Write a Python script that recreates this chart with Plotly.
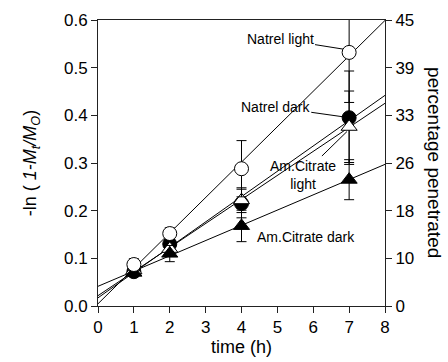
import numpy as np
import plotly.graph_objects as go

# ---- data ----
time_h = [1, 2, 4, 7]

natrel_light = [0.087, 0.152, 0.288, 0.532]
natrel_light_err = [0.012, 0.012, 0.059, 0.105]

natrel_dark = [0.072, 0.130, 0.215, 0.395]
natrel_dark_err = [0.008, 0.012, 0.030, 0.098]

citrate_light = [0.075, 0.120, 0.222, 0.376]
citrate_light_err = [0.008, 0.010, 0.026, 0.075]

citrate_dark = [0.070, 0.110, 0.168, 0.265]
citrate_dark_err = [0.006, 0.017, 0.033, 0.042]

left_tick_vals = [0.0, 0.1, 0.2, 0.3, 0.4, 0.5, 0.6]
right_tick_labels = ["0", "10", "18", "26", "33", "39", "45"]
x_ticks = [0, 1, 2, 3, 4, 5, 6, 7, 8]
fit_span = [0, 8]

FONT = "Liberation Sans, Arial, Helvetica, sans-serif"

fig = go.Figure()

series = [
    ("Natrel dark", natrel_dark, natrel_dark_err, "circle", "black"),
    ("Am.Citrate light", citrate_light, citrate_light_err, "triangle-up", "white"),
    ("Am.Citrate dark", citrate_dark, citrate_dark_err, "triangle-up", "black"),
    ("Natrel light", natrel_light, natrel_light_err, "circle", "white"),
]

# regression lines (drawn first, under markers)
for name, ys, errs, sym, fill in series:
    slope, icpt = np.polyfit(time_h, ys, 1)
    fx = np.array(fit_span, dtype=float)
    fig.add_trace(go.Scatter(
        x=fx, y=slope * fx + icpt, mode="lines",
        line=dict(color="black", width=1),
        showlegend=False, hoverinfo="skip"))

for name, ys, errs, sym, fill in series:
    fig.add_trace(go.Scatter(
        x=time_h, y=ys, mode="markers", name=name,
        marker=dict(symbol=sym, size=14, color=fill,
                    line=dict(color="black", width=1)),
        error_y=dict(type="data", array=errs, visible=True,
                     color="black", thickness=1, width=5),
        showlegend=False))

# invisible trace to anchor the right axis
fig.add_trace(go.Scatter(x=[0], y=[0], yaxis="y2", mode="markers",
                         marker=dict(opacity=0), showlegend=False,
                         hoverinfo="skip"))

axis_common = dict(showline=True, linecolor="#222", linewidth=1,
                   ticks="outside", ticklen=6, tickcolor="#222",
                   showgrid=False, zeroline=False, automargin=False,
                   tickfont=dict(family=FONT, size=17, color="black"))

fig.update_layout(
    width=448, height=362,
    margin=dict(l=98, r=63, t=20, b=56, autoexpand=False),
    paper_bgcolor="white", plot_bgcolor="white",
    font=dict(family=FONT, color="black"),
    xaxis=dict(range=[0, 8], tickvals=x_ticks, mirror=True,
               title=dict(text="time (h)", font=dict(family=FONT, size=18),
                          standoff=2),
               **axis_common),
    yaxis=dict(range=[0, 0.6], tickvals=left_tick_vals, tickformat=".1f",
               mirror=False,
               title=dict(text="-ln ( <i>1-M<sub>t</sub>/M<sub>O</sub></i>)",
                          font=dict(family=FONT, size=18), standoff=22),
               **axis_common),
    yaxis2=dict(range=[0, 0.6], overlaying="y", side="right",
                tickvals=left_tick_vals, ticktext=right_tick_labels,
                **axis_common),
)

ann_font = dict(family=FONT, size=14, color="black")
fig.add_annotation(x=6.83, y=0.539, xref="x", yref="y", text="Natrel light",
                   showarrow=True, arrowhead=0, arrowwidth=1, arrowcolor="black",
                   ax=-63, ay=-10, font=ann_font)
fig.add_annotation(x=6.92, y=0.396, xref="x", yref="y", text="Natrel dark",
                   showarrow=True, arrowhead=0, arrowwidth=1, arrowcolor="black",
                   ax=-71, ay=-10, font=ann_font)
fig.add_annotation(x=6.94, y=0.366, xref="x", yref="y", text="Am.Citrate<br>light",
                   showarrow=True, arrowhead=0, arrowwidth=1, arrowcolor="black",
                   ax=-44, ay=43, font=ann_font)
fig.add_annotation(x=5.8, y=0.145, xref="x", yref="y", text="Am.Citrate dark",
                   showarrow=False, font=ann_font)
fig.add_annotation(x=1.174, y=0.5, xref="paper", yref="paper",
                   xanchor="center", yanchor="middle",
                   text="percentage penetrated", textangle=90,
                   showarrow=False, font=dict(family=FONT, size=19, color="black"))

fig.write_html("out.html",
               config={"displayModeBar": False},
               post_script="document.body.style.margin='0';"
                           "document.body.style.padding='0';")
